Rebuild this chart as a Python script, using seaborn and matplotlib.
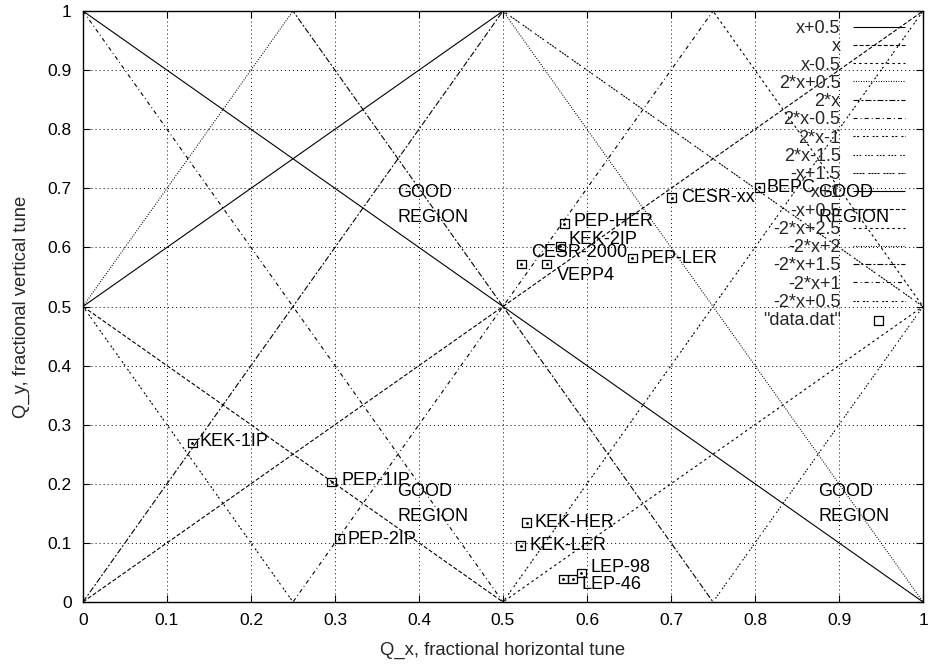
import numpy as np
import pandas as pd
import seaborn as sns
import matplotlib.pyplot as plt

# resonance lines: y = slope*x + intercept
line_labels = ["x+0.5", "x", "x-0.5", "2*x+0.5", "2*x", "2*x-0.5", "2*x-1", "2*x-1.5",
               "-x+1.5", "-x+1", "-x+0.5", "-2*x+2.5", "-2*x+2", "-2*x+1.5", "-2*x+1", "-2*x+0.5"]
slopes = [1, 1, 1, 2, 2, 2, 2, 2, -1, -1, -1, -2, -2, -2, -2, -2]
intercepts = [0.5, 0, -0.5, 0.5, 0, -0.5, -1, -1.5, 1.5, 1, 0.5, 2.5, 2, 1.5, 1, 0.5]
x_ends = [0.0, 1.0]

# machine working points
machines = ["KEK-1IP", "PEP-1IP", "PEP-2IP", "KEK-HER", "KEK-LER", "LEP-46", "LEP-46",
            "LEP-98", "PEP-HER", "KEK-2IP", "CESR-2000", "VEPP4", "PEP-LER", "CESR-xx", "BEPC"]
qx = [0.130, 0.296, 0.305, 0.528, 0.521, 0.572, 0.583, 0.593, 0.573, 0.568, 0.522, 0.552, 0.654, 0.701, 0.805]
qy = [0.269, 0.203, 0.107, 0.134, 0.095, 0.039, 0.039, 0.049, 0.640, 0.602, 0.572, 0.572, 0.582, 0.684, 0.702]

# text labels for the points
label_text = ["KEK-1IP", "PEP-1IP", "PEP-2IP", "KEK-HER", "KEK-LER", "LEP-98", "LEP-46",
              "PEP-HER", "KEK-2IP", "CESR-2000", "VEPP4", "PEP-LER", "CESR-xx", "BEPC"]
label_x = [0.139, 0.308, 0.315, 0.538, 0.531, 0.604, 0.594, 0.584, 0.578, 0.533, 0.564, 0.664, 0.712, 0.814]
label_y = [0.272, 0.205, 0.105, 0.135, 0.095, 0.058, 0.029, 0.643, 0.613, 0.592, 0.552, 0.582, 0.684, 0.702]

good_x = [0.374, 0.374, 0.875, 0.875]
good_y = [0.672, 0.166, 0.672, 0.166]

# gnuplot-like dash types, cycled
dash_types = [
    (0, ()),
    (0, (2.9, 1.45)),
    (0, (1.8, 2.2)),
    (0, (0.7, 1.1)),
    (0, (4.3, 1.45, 1.4, 1.45)),
    (0, (2.9, 2.2, 0.7, 2.2)),
    (0, (1.45, 1.1, 1.45, 2.9)),
    (0, (1.1, 1.1, 1.1, 1.1, 1.1, 2.9)),
    (0, (1.45, 0.7, 1.45, 0.7, 1.45, 0.7, 1.45, 2.9)),
]

sns.set_theme(style="ticks", rc={"lines.scale_dashes": False})
plt.rcParams["font.family"] = ["Liberation Sans", "DejaVu Sans"]
plt.rcParams["font.size"] = 13

fig = plt.figure(figsize=(9.3, 6.64), dpi=100)
ax = fig.add_axes([0.0892, 0.0934, 0.9033, 0.89])

for i, (lab, m, b) in enumerate(zip(line_labels, slopes, intercepts)):
    df = pd.DataFrame({"x": x_ends, "y": [m * xx + b for xx in x_ends]})
    ls = dash_types[i % len(dash_types)]
    sns.lineplot(data=df, x="x", y="y", ax=ax, color="black", lw=0.8, label=lab)
    ax.lines[-1].set_linestyle(ls)

pts = pd.DataFrame({"qx": qx, "qy": qy, "name": machines})
sns.scatterplot(data=pts, x="qx", y="qy", ax=ax, marker="s", s=40, facecolor="none",
                edgecolor="black", linewidth=0.9, label='"data.dat"', zorder=5)
ax.scatter(qx, qy, s=1, color="black", zorder=6)

for t, lx, ly in zip(label_text, label_x, label_y):
    ax.text(lx, ly, t, fontsize=13, ha="left", va="center", color="black")
for gx, gy in zip(good_x, good_y):
    ax.text(gx, gy, "GOOD\nREGION", fontsize=13, ha="left", va="center",
            linespacing=1.62, color="black")

ax.set_xlim(0, 1)
ax.set_ylim(0, 1)
ax.set_xticks(np.arange(0, 1.01, 0.1))
ax.set_yticks(np.arange(0, 1.01, 0.1))
ax.set_xticklabels(["0", "0.1", "0.2", "0.3", "0.4", "0.5", "0.6", "0.7", "0.8", "0.9", "1"])
ax.set_yticklabels(["0", "0.1", "0.2", "0.3", "0.4", "0.5", "0.6", "0.7", "0.8", "0.9", "1"])
ax.grid(True, color="black", linestyle=(0, (0.7, 2.2)), lw=0.7)
ax.tick_params(direction="in", length=5, width=0.8, top=True, right=True,
               labelsize=12.5, colors="black")
ax.tick_params(axis="x", pad=8)
ax.tick_params(axis="y", pad=8)
for sp in ax.spines.values():
    sp.set_color("black")
    sp.set_linewidth(1.0)
    sp.set_visible(True)

ax.set_xlabel("Q_x, fractional horizontal tune", fontsize=13.3, labelpad=10)
ax.set_ylabel("Q_y, fractional vertical tune", fontsize=13.3, labelpad=13)

leg = ax.legend(loc="upper right", bbox_to_anchor=(0.987, 0.997), frameon=False,
                markerfirst=False, handlelength=2.9, handletextpad=0.66,
                labelspacing=0.07, borderaxespad=0.0, fontsize=13)
for t in leg.get_texts():
    t.set_ha("right")

fig.savefig("out.png", dpi=100)
